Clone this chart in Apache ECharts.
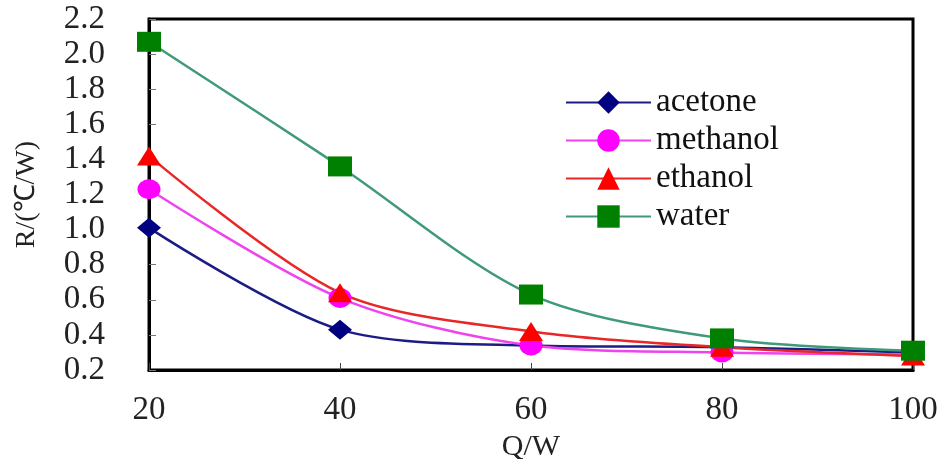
<!DOCTYPE html>
<html>
<head>
<meta charset="utf-8">
<script src="https://cdn.jsdelivr.net/npm/echarts@6/dist/echarts.min.js"></script>
<style>html,body{margin:0;padding:0;background:#fff;}#main{width:946px;height:459px;}</style>
</head>
<body>
<div id="main"></div>
<script>
const xValues = [20, 40, 60, 80, 100];
const acetone = [1.01, 0.43, 0.34, 0.33, 0.30];
const methanol = [1.23, 0.61, 0.34, 0.30, 0.29];
const ethanol = [1.42, 0.64, 0.42, 0.33, 0.28];
const water = [2.07, 1.36, 0.63, 0.38, 0.31];
const seriesNames = ['acetone', 'methanol', 'ethanol', 'water'];

const font = 'Liberation Serif';
const pair = (arr) => xValues.map((x, i) => [x, arr[i]]);

const chart = echarts.init(document.getElementById('main'));
chart.setOption({
  animation: false,
  backgroundColor: '#fff',
  grid: { left: 149, right: 33, top: 19, bottom: 89, show: true, borderColor: '#000', borderWidth: 3,
          backgroundColor: 'transparent', outerBoundsMode: 'none', containLabel: false },
  legend: {
    orient: 'vertical', left: 565, top: 86, padding: 0,
    itemWidth: 85, itemHeight: 28, itemGap: 5,
    textStyle: { fontFamily: font, fontSize: 33, color: '#111' },
    data: seriesNames
  },
  xAxis: {
    type: 'value', min: 20, max: 100, interval: 20,
    name: 'Q/W', nameLocation: 'middle', nameGap: 56,
    nameTextStyle: { fontFamily: font, fontSize: 30, color: '#222' },
    axisLine: { lineStyle: { color: '#000', width: 3 } },
    axisTick: { inside: true, length: 7, lineStyle: { color: '#444', width: 1 } },
    axisLabel: { fontFamily: font, fontSize: 33, color: '#222', margin: 24 },
    splitLine: { show: false }
  },
  yAxis: {
    type: 'value', min: 0.2, max: 2.2, interval: 0.2,
    name: 'R/(℃/W)', nameLocation: 'middle', nameGap: 108, nameRotate: 90,
    nameTextStyle: { fontFamily: font, fontSize: 28, color: '#222' },
    axisLine: { lineStyle: { color: '#000', width: 3 } },
    axisTick: { inside: true, length: 7, lineStyle: { color: '#777', width: 1 } },
    axisLabel: { fontFamily: font, fontSize: 33, color: '#222', margin: 44, formatter: (v) => v.toFixed(1) },
    splitLine: { show: false }
  },
  series: [
    { name: 'acetone', type: 'line', data: pair(acetone), smooth: 0.3,
      symbol: 'diamond', symbolSize: [24, 20],
      itemStyle: { color: '#000080' }, lineStyle: { color: '#1c1c86', width: 2.5 } },
    { name: 'methanol', type: 'line', data: pair(methanol), smooth: 0.3,
      symbol: 'circle', symbolSize: [23, 20],
      itemStyle: { color: '#ff00ff' }, lineStyle: { color: '#ee44ee', width: 2.5 } },
    { name: 'ethanol', type: 'line', data: pair(ethanol), smooth: 0.3,
      symbol: 'triangle', symbolSize: [24, 19],
      itemStyle: { color: '#ff0000' }, lineStyle: { color: '#e82828', width: 2.5 } },
    { name: 'water', type: 'line', data: pair(water), smooth: 0.3,
      symbol: 'rect', symbolSize: [24, 20],
      itemStyle: { color: '#008000' }, lineStyle: { color: '#3f9a78', width: 2.5 } }
  ]
});
</script>
</body>
</html>
